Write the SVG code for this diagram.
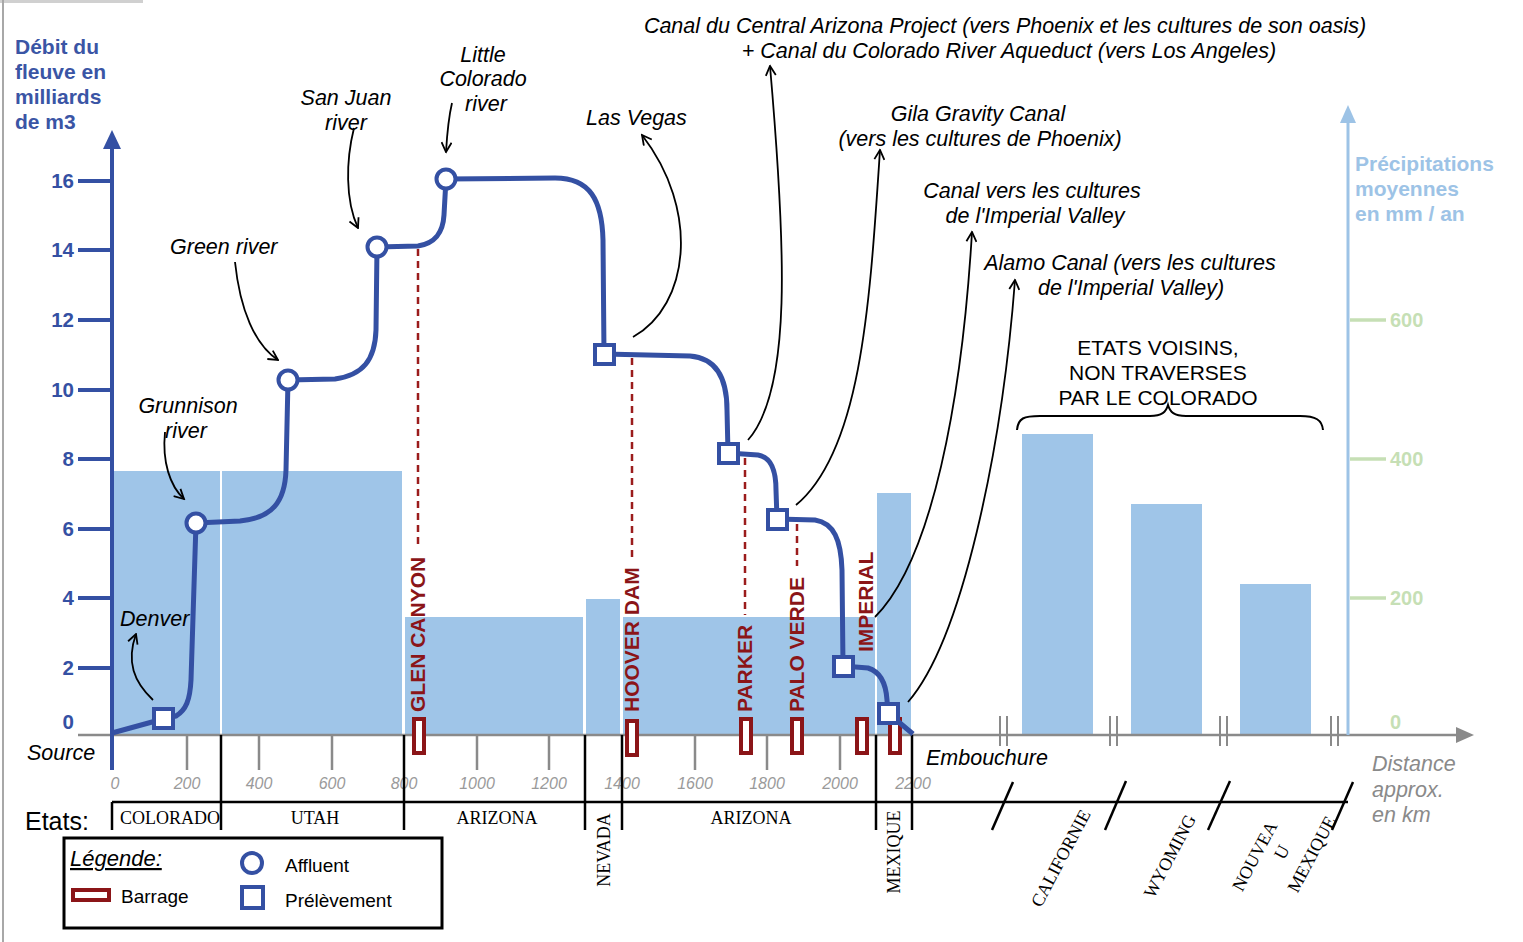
<svg xmlns="http://www.w3.org/2000/svg" width="1523" height="942" viewBox="0 0 1523 942">
<defs>
<style>
.ann{font-family:"Liberation Sans",Arial,sans-serif;font-style:italic;font-size:21.5px;fill:#000}
.ax{font-family:"Liberation Sans",Arial,sans-serif;font-weight:bold;font-size:20.5px;fill:#3450a3}
.tt{font-family:"Liberation Sans",Arial,sans-serif;font-weight:bold;font-size:21px;fill:#3a55a5}
.rax{font-family:"Liberation Sans",Arial,sans-serif;font-weight:bold;font-size:21px;fill:#9dc3e6}
.gax{font-family:"Liberation Sans",Arial,sans-serif;font-weight:bold;font-size:20px;fill:#c6dfb5}
.xt{font-family:"Liberation Sans",Arial,sans-serif;font-style:italic;font-size:16px;fill:#9a9a9a;text-anchor:middle}
.st{font-family:"Liberation Serif","Times New Roman",serif;font-size:18px;fill:#000;text-anchor:middle}
.dam{font-family:"Liberation Sans",Arial,sans-serif;font-weight:bold;font-size:21px;fill:#8b1518}
.bar{fill:#9fc5e8}
.conn{fill:none;stroke:#000;stroke-width:1.8;marker-end:url(#ah)}
.dash{stroke:#9b1c1c;stroke-width:2.5;stroke-dasharray:7 5;fill:none}
.damr{fill:#fff;stroke:#8b1518;stroke-width:4}
.aff{fill:#fff;stroke:#3450a3;stroke-width:4}
.pre{fill:#fff;stroke:#3450a3;stroke-width:4}
.ytk{stroke:#3450a3;stroke-width:4}
.gtk{stroke:#8a8a8a;stroke-width:2.5}
.blk{stroke:#000;stroke-width:2.5}
.lg{font-family:"Liberation Sans",Arial,sans-serif;font-size:19px;fill:#000}
</style>
<marker id="ah" viewBox="0 0 12 12" refX="10.5" refY="6" markerWidth="12" markerHeight="12" markerUnits="userSpaceOnUse" orient="auto">
<path d="M1,1 L10.5,6 L1,11" fill="none" stroke="#000" stroke-width="1.8"/>
</marker>
</defs>
<rect width="1523" height="942" fill="#fff"/>
<rect x="0" y="0" width="143" height="3" fill="#d0d0d0"/>
<line x1="3" y1="0" x2="3" y2="942" stroke="#a8a8a8" stroke-width="2"/>

<g id="bars">
<rect class="bar" x="113" y="471" width="107" height="264"/>
<rect class="bar" x="222" y="471" width="180" height="264"/>
<rect class="bar" x="405" y="617" width="178" height="118"/>
<rect class="bar" x="586" y="599" width="34" height="136"/>
<rect class="bar" x="623" y="617" width="252" height="118"/>
<rect class="bar" x="877" y="493" width="34" height="242"/>
<rect class="bar" x="1022" y="434" width="71" height="301"/>
<rect class="bar" x="1131" y="504" width="71" height="231"/>
<rect class="bar" x="1240" y="584" width="71" height="151"/>
</g>

<g id="axes">
<line x1="78" y1="735" x2="1458" y2="735" stroke="#8a8a8a" stroke-width="2.5"/>
<polygon points="1474,735 1456,727 1456,743" fill="#8a8a8a"/>
<g stroke="#8a8a8a" stroke-width="2">
<line x1="1000" y1="716" x2="1000" y2="746"/><line x1="1007" y1="716" x2="1007" y2="746"/>
<line x1="1110" y1="716" x2="1110" y2="746"/><line x1="1117" y1="716" x2="1117" y2="746"/>
<line x1="1220" y1="716" x2="1220" y2="746"/><line x1="1227" y1="716" x2="1227" y2="746"/>
<line x1="1331" y1="716" x2="1331" y2="746"/><line x1="1338" y1="716" x2="1338" y2="746"/>
</g>
<line x1="112" y1="146" x2="112" y2="770" stroke="#3450a3" stroke-width="4"/>
<polygon points="112,130 103,149 121,149" fill="#3450a3"/>
<line class="ytk" x1="78" y1="181" x2="112" y2="181"/>
<line class="ytk" x1="78" y1="250" x2="112" y2="250"/>
<line class="ytk" x1="78" y1="320" x2="112" y2="320"/>
<line class="ytk" x1="78" y1="390" x2="112" y2="390"/>
<line class="ytk" x1="78" y1="459" x2="112" y2="459"/>
<line class="ytk" x1="78" y1="529" x2="112" y2="529"/>
<line class="ytk" x1="78" y1="598" x2="112" y2="598"/>
<line class="ytk" x1="78" y1="668" x2="112" y2="668"/>
<g class="ax" text-anchor="end">
<text x="74" y="188">16</text><text x="74" y="257">14</text><text x="74" y="327">12</text><text x="74" y="397">10</text>
<text x="74" y="466">8</text><text x="74" y="536">6</text><text x="74" y="605">4</text><text x="74" y="675">2</text><text x="74" y="729">0</text>
</g>
<g class="tt">
<text x="15" y="54">Débit du</text><text x="15" y="79">fleuve en</text><text x="15" y="104">milliards</text><text x="15" y="129">de m3</text>
</g>
<line x1="1348" y1="120" x2="1348" y2="735" stroke="#9dc3e6" stroke-width="3"/>
<polygon points="1348,105 1340,123 1356,123" fill="#9dc3e6"/>
<g stroke="#c6dfb5" stroke-width="3.5">
<line x1="1350" y1="320" x2="1386" y2="320"/><line x1="1350" y1="459" x2="1386" y2="459"/><line x1="1350" y1="598" x2="1386" y2="598"/>
</g>
<g class="gax">
<text x="1390" y="327">600</text><text x="1390" y="466">400</text><text x="1390" y="605">200</text><text x="1390" y="729">0</text>
</g>
<g class="rax">
<text x="1355" y="171">Précipitations</text><text x="1355" y="196">moyennes</text><text x="1355" y="221">en mm / an</text>
</g>
<g class="gtk">
<line x1="187" y1="735" x2="187" y2="770"/><line x1="259" y1="735" x2="259" y2="770"/><line x1="332" y1="735" x2="332" y2="770"/>
<line x1="477" y1="735" x2="477" y2="770"/><line x1="549" y1="735" x2="549" y2="770"/>
<line x1="695" y1="735" x2="695" y2="770"/><line x1="767" y1="735" x2="767" y2="770"/><line x1="840" y1="735" x2="840" y2="770"/>
</g>
<g class="xt">
<text x="115" y="789">0</text><text x="187" y="789">200</text><text x="259" y="789">400</text><text x="332" y="789">600</text>
<text x="404" y="789">800</text><text x="477" y="789">1000</text><text x="549" y="789">1200</text><text x="622" y="789">1400</text>
<text x="695" y="789">1600</text><text x="767" y="789">1800</text><text x="840" y="789">2000</text><text x="913" y="789">2200</text>
</g>
<g font-family="Liberation Sans, Arial, sans-serif" font-style="italic" font-size="21.5px" fill="#8a8a8a">
<text x="1372" y="771">Distance</text><text x="1372" y="797">approx.</text><text x="1372" y="822">en km</text>
</g>
</g>

<g id="states">
<line class="blk" x1="112" y1="802" x2="1348" y2="802"/>
<line class="blk" x1="112" y1="802" x2="112" y2="830"/>
<line class="blk" x1="221" y1="735" x2="221" y2="830"/>
<line class="blk" x1="404" y1="735" x2="404" y2="830"/>
<line class="blk" x1="585" y1="735" x2="585" y2="830"/>
<line class="blk" x1="622" y1="735" x2="622" y2="830"/>
<line class="blk" x1="876" y1="735" x2="876" y2="830"/>
<line class="blk" x1="912" y1="735" x2="912" y2="830"/>
<line class="blk" x1="992" y1="830" x2="1013" y2="782"/>
<line class="blk" x1="1105" y1="830" x2="1126" y2="781"/>
<line class="blk" x1="1208" y1="830" x2="1230" y2="781"/>
<line class="blk" x1="1332" y1="830" x2="1353" y2="782"/>
<text class="st" x="170" y="824" font-size="17px">COLORADO</text>
<text class="st" x="315" y="824">UTAH</text>
<text class="st" x="497" y="824">ARIZONA</text>
<text class="st" x="751" y="824">ARIZONA</text>
<text class="st" transform="translate(610,850) rotate(-90)" font-size="19px">NEVADA</text>
<text class="st" transform="translate(900,852) rotate(-90)">MEXIQUE</text>
<text class="st" transform="translate(1066,861) rotate(-62)" font-size="17.5px">CALIFORNIE</text>
<text class="st" transform="translate(1175,859) rotate(-62)" font-size="17.5px">WYOMING</text>
<text class="st" transform="translate(1260,859) rotate(-62)">NOUVEA</text>
<text class="st" transform="translate(1287,855) rotate(-62)">U</text>
<text class="st" transform="translate(1317,857) rotate(-62)">MEXIQUE</text>
<text x="25" y="830" font-family="Liberation Sans, Arial, sans-serif" font-size="25px" fill="#000">Etats:</text>
</g>

<g id="dams">
<line class="dash" x1="418" y1="249" x2="418" y2="546"/>
<line class="dash" x1="632" y1="358" x2="632" y2="558"/>
<line class="dash" x1="745" y1="458" x2="745" y2="615"/>
<line class="dash" x1="797" y1="524" x2="797" y2="566"/>
<text class="dam" transform="translate(425,712) rotate(-90)" font-size="22px">GLEN CANYON</text>
<text class="dam" transform="translate(639,712) rotate(-90)" font-size="22px">HOOVER DAM</text>
<text class="dam" transform="translate(752,712) rotate(-90)">PARKER</text>
<text class="dam" transform="translate(804,712) rotate(-90)" font-size="22px">PALO VERDE</text>
<text class="dam" transform="translate(873,652) rotate(-90)">IMPERIAL</text>
<rect class="damr" x="414" y="719" width="10" height="34"/>
<rect class="damr" x="627" y="721" width="10" height="34"/>
<rect class="damr" x="741" y="719" width="10" height="34"/>
<rect class="damr" x="792" y="719" width="10" height="34"/>
<rect class="damr" x="857" y="719" width="10" height="34"/>
<rect class="damr" x="890" y="719" width="10" height="34"/>
</g>

<g id="river">
<path d="M112,733 L163,719 L176,716 C186,710 190,700 191,680 L196,523 L240,521 C272,518 285,502 286,470 L288,380 L335,379 C363,375 375,360 376,330 L377,247 L418,246 C436,243 443,232 444,215 L446,179 L555,178 C590,178 602,200 603,240 L604,354 L690,356 C716,358 727,378 727,410 L728,453 L758,455 C771,457 776,470 776,490 L777,519 L815,520 C834,523 841,540 842,570 L843,666 L868,668 C881,672 886,684 887,700 L888,713 L913,734" fill="none" stroke="#3450a3" stroke-width="5" stroke-linejoin="round"/>
</g>

<g id="n-denver"><rect class="pre" x="154" y="709" width="19" height="19"/></g>
<g id="n-grunnison"><circle class="aff" cx="196" cy="523" r="9.5"/></g>
<g id="n-green"><circle class="aff" cx="288" cy="380" r="9.5"/></g>
<g id="n-sanjuan"><circle class="aff" cx="377" cy="247" r="9.5"/></g>
<g id="n-littlecolorado"><circle class="aff" cx="446" cy="179" r="9.5"/></g>
<g id="n-lasvegas"><rect class="pre" x="595" y="345" width="19" height="19"/></g>
<g id="n-cap"><rect class="pre" x="719" y="444" width="19" height="19"/></g>
<g id="n-gila"><rect class="pre" x="768" y="510" width="19" height="19"/></g>
<g id="n-imperial"><rect class="pre" x="834" y="657" width="19" height="19"/></g>
<g id="n-alamo"><rect class="pre" x="879" y="704" width="19" height="19"/></g>

<g id="connectors">
<path class="conn" d="M153,700 C134,682 126,662 136,634"/>
<path class="conn" d="M165,432 C162,462 170,486 184,499"/>
<path class="conn" d="M235,262 C240,310 255,345 278,360"/>
<path class="conn" d="M354,128 C346,160 345,200 358,228"/>
<path class="conn" d="M452,103 C448,120 447,135 446,152"/>
<path class="conn" d="M633,337 C690,305 700,210 642,135"/>
<path class="conn" d="M748,440 C792,390 786,250 770,66"/>
<path class="conn" d="M796,505 C862,450 870,300 880,150"/>
<path class="conn" d="M875,617 C932,560 962,400 972,232"/>
<path class="conn" d="M908,702 C962,640 1002,450 1015,280"/>
<path d="M1017,430 C1018,418 1024,416 1040,416 L1150,416 C1162,416 1166,412 1168,405 C1170,412 1174,416 1186,416 L1300,416 C1316,416 1322,420 1323,430" fill="none" stroke="#000" stroke-width="2"/>
</g>

<g id="labels">
<text class="ann" x="120" y="626">Denver</text>
<text class="ann" x="188" y="413" text-anchor="middle">Grunnison</text>
<text class="ann" x="186" y="438" text-anchor="middle">river</text>
<text class="ann" x="170" y="254">Green river</text>
<text class="ann" x="346" y="105" text-anchor="middle">San Juan</text>
<text class="ann" x="346" y="130" text-anchor="middle">river</text>
<text class="ann" x="483" y="62" text-anchor="middle">Little</text>
<text class="ann" x="483" y="86" text-anchor="middle">Colorado</text>
<text class="ann" x="486" y="111" text-anchor="middle">river</text>
<text class="ann" x="586" y="125">Las Vegas</text>
<text class="ann" x="1005" y="33" text-anchor="middle">Canal du Central Arizona Project (vers Phoenix et les cultures de son oasis)</text>
<text class="ann" x="1009" y="58" text-anchor="middle">+ Canal du Colorado River Aqueduct (vers Los Angeles)</text>
<text class="ann" x="978" y="121" text-anchor="middle">Gila Gravity Canal</text>
<text class="ann" x="980" y="146" text-anchor="middle">(vers les cultures de Phoenix)</text>
<text class="ann" x="1032" y="198" text-anchor="middle">Canal vers les cultures</text>
<text class="ann" x="1035" y="223" text-anchor="middle">de l'Imperial Valley</text>
<text class="ann" x="1130" y="270" text-anchor="middle">Alamo Canal (vers les cultures</text>
<text class="ann" x="1131" y="295" text-anchor="middle">de l'Imperial Valley)</text>
<g font-family="Liberation Sans, Arial, sans-serif" font-size="21px" fill="#000" text-anchor="middle">
<text x="1158" y="355">ETATS VOISINS,</text>
<text x="1158" y="380">NON TRAVERSES</text>
<text x="1158" y="405">PAR LE COLORADO</text>
</g>
<text class="ann" x="27" y="760">Source</text>
<text class="ann" x="926" y="765">Embouchure</text>
</g>

<g id="legend">
<rect x="64" y="838" width="378" height="90" fill="#fff" stroke="#000" stroke-width="3"/>
<text x="70" y="866" font-family="Liberation Sans, Arial, sans-serif" font-style="italic" font-size="22px" text-decoration="underline" fill="#000">Légende:</text>
<rect class="damr" x="73" y="890" width="36" height="10"/>
<text class="lg" x="121" y="903">Barrage</text>
<circle class="aff" cx="252" cy="863" r="10"/>
<text class="lg" x="285" y="872">Affluent</text>
<rect class="pre" x="242" y="887" width="21" height="21"/>
<text class="lg" x="285" y="907">Prélèvement</text>
</g>
</svg>
